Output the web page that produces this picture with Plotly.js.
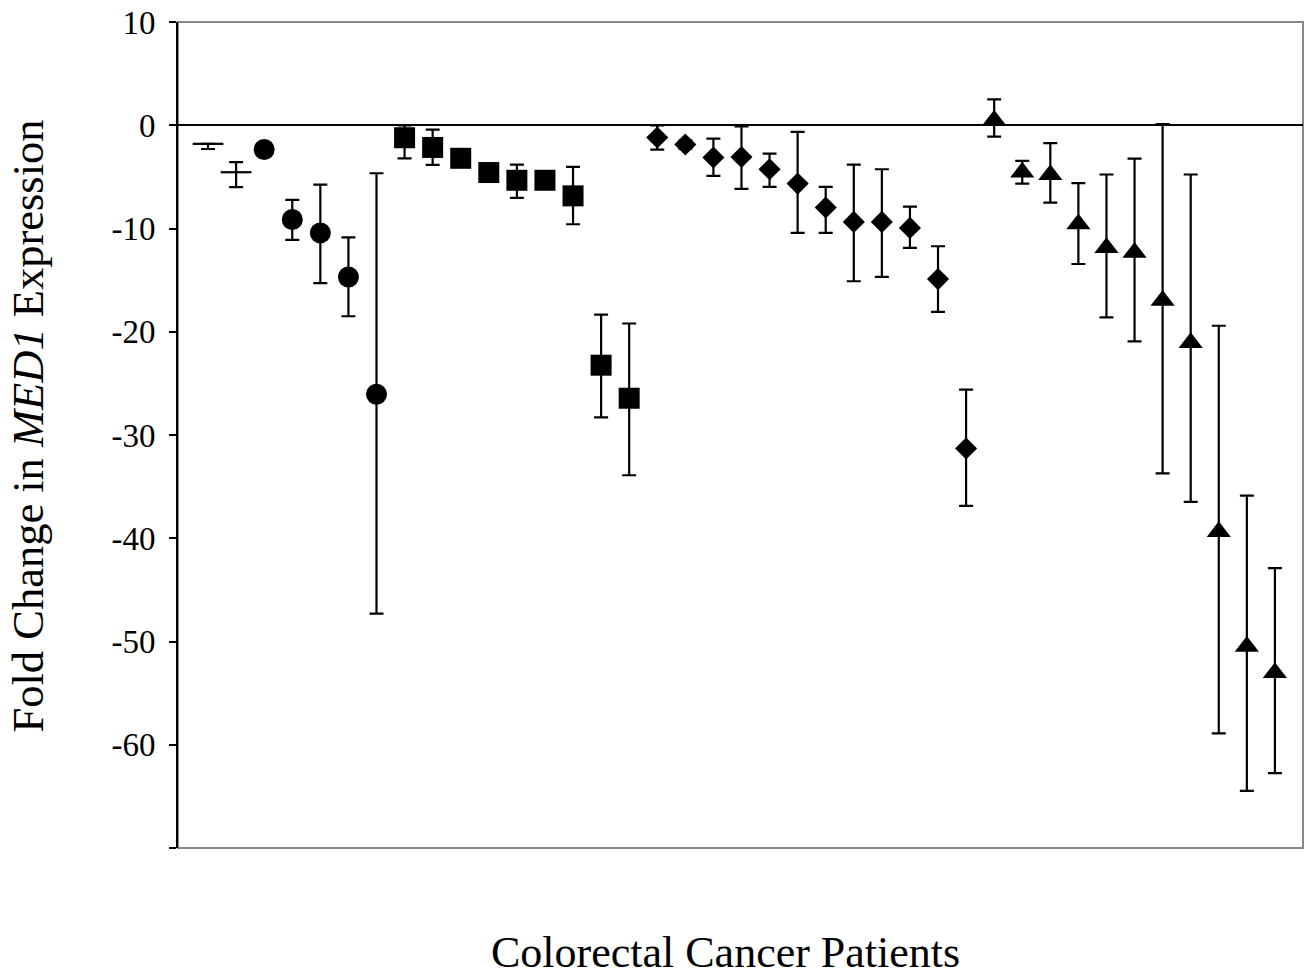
<!DOCTYPE html>
<html>
<head>
<meta charset="utf-8">
<script src="https://cdn.plot.ly/plotly-3.0.1.min.js"></script>
<style>
  html, body { margin: 0; padding: 0; background: #fff; }
  #chart { width: 1309px; height: 977px; }
</style>
</head>
<body>
<div id="chart"></div>
<script>
// Patient indices (x positions along the category axis)
const dashPatients = [1, 2];
const dashValues = [-1.8, -4.55];
const dashErrPlus = [0, 0.97];
const dashErrMinus = [0.5, 1.45];

const circlePatients = [3, 4, 5, 6, 7];
const circleValues = [-2.35, -9.13, -10.43, -14.7, -26.05];
const circleErrPlus = [0.4, 1.9, 4.68, 3.85, 21.4];
const circleErrMinus = [0.4, 1.97, 4.87, 3.8, 21.25];

const squarePatients = [8, 9, 10, 11, 12, 13, 14, 15, 16];
const squareValues = [-1.21, -2.15, -3.2, -4.58, -5.33, -5.33, -6.84, -23.24, -26.44];
const squareErrPlus = [1.2, 1.73, 0.5, 0.5, 1.52, 0.5, 2.8, 4.9, 7.24];
const squareErrMinus = [1.99, 1.69, 0.5, 0.5, 1.71, 0.5, 2.75, 5.06, 7.46];

const diamondPatients = [17, 18, 19, 20, 21, 22, 23, 24, 25, 26, 27, 28];
const diamondValues = [-1.19, -1.87, -3.13, -3.07, -4.26, -5.65, -7.97, -9.36, -9.36, -9.94, -14.9, -31.31];
const diamondErrPlus = [1.17, 0.4, 1.84, 2.97, 1.52, 5.0, 2.0, 5.55, 5.1, 2.06, 3.18, 5.71];
const diamondErrMinus = [1.17, 0.4, 1.78, 3.1, 1.71, 4.78, 2.46, 5.75, 5.33, 1.94, 3.18, 5.56];

const trianglePatients = [29, 30, 31, 32, 33, 34, 35, 36, 37, 38, 39];
const triangleValues = [0.48, -4.55, -4.8, -9.57, -11.86, -12.32, -16.97, -21.07, -39.37, -50.48, -53.03];
const triangleErrPlus = [2.02, 1.1, 3.06, 3.97, 7.09, 9.08, 17.07, 16.3, 19.95, 14.6, 10.14];
const triangleErrMinus = [1.58, 1.1, 2.7, 3.87, 6.74, 8.62, 16.75, 15.4, 19.53, 13.98, 9.71];

const yTickVals = [10, 0, -10, -20, -30, -40, -50, -60, -70];
const yTickText = ['10', '0', '-10', '-20', '-30', '-40', '-50', '-60', ''];

function errBar(plus, minus) {
  return {
    type: 'data', symmetric: false, array: plus, arrayminus: minus,
    color: '#000', thickness: 2.2, width: 7, visible: true
  };
}

function series(x, y, plus, minus, symbol, size, extraMarker) {
  return {
    type: 'scatter', mode: 'markers', x: x, y: y,
    error_y: errBar(plus, minus),
    marker: Object.assign({ symbol: symbol, size: size, color: '#000' }, extraMarker || {}),
    showlegend: false, hoverinfo: 'x+y'
  };
}

const data = [
  series(dashPatients, dashValues, dashErrPlus, dashErrMinus, 'line-ew', 22, { line: { color: '#000', width: 2.2 } }),
  series(circlePatients, circleValues, circleErrPlus, circleErrMinus, 'circle', 21),
  series(squarePatients, squareValues, squareErrPlus, squareErrMinus, 'square', 21),
  series(diamondPatients, diamondValues, diamondErrPlus, diamondErrMinus, 'diamond', 17),
  series(trianglePatients, triangleValues, triangleErrPlus, triangleErrMinus, 'triangle-up', 21)
];

const layout = {
  width: 1309, height: 977,
  margin: { l: 177.5, r: 6.3, t: 22, b: 129.4, pad: 0 },
  paper_bgcolor: '#fff', plot_bgcolor: '#fff',
  font: { family: 'Liberation Serif, Times New Roman, serif', color: '#000' },
  xaxis: {
    range: [-0.07, 40], showgrid: false, zeroline: false, showline: false,
    showticklabels: false, ticks: ''
  },
  yaxis: {
    range: [-70, 10], tickvals: yTickVals, ticktext: yTickText,
    ticks: 'outside', ticklen: 7, tickwidth: 2, tickcolor: '#000',
    showline: true, linecolor: '#000', linewidth: 2,
    showgrid: false, zeroline: true, zerolinecolor: '#000', zerolinewidth: 2,
    tickfont: { family: 'Liberation Serif, Times New Roman, serif', size: 33, color: '#000' },
    ticklabelstandoff: 7
  },
  shapes: [{
    type: 'rect', xref: 'paper', yref: 'paper', x0: 0, x1: 1, y0: 0, y1: 1,
    line: { color: '#888', width: 2 }, layer: 'below'
  }],
  annotations: [
    {
      text: 'Colorectal Cancer Patients', xref: 'paper', yref: 'paper',
      x: 0.4866, y: -0.1265, xanchor: 'center', yanchor: 'middle', showarrow: false,
      font: { family: 'Liberation Serif, Times New Roman, serif', size: 44, color: '#000' }
    },
    {
      text: 'Fold Change in <i>MED1</i> Expression', xref: 'paper', yref: 'paper',
      x: -0.133, y: 0.5107, xanchor: 'center', yanchor: 'middle', showarrow: false,
      textangle: -90,
      font: { family: 'Liberation Serif, Times New Roman, serif', size: 44.5, color: '#000' }
    }
  ]
};

Plotly.newPlot('chart', data, layout, { displayModeBar: false, staticPlot: true });
</script>
</body>
</html>
